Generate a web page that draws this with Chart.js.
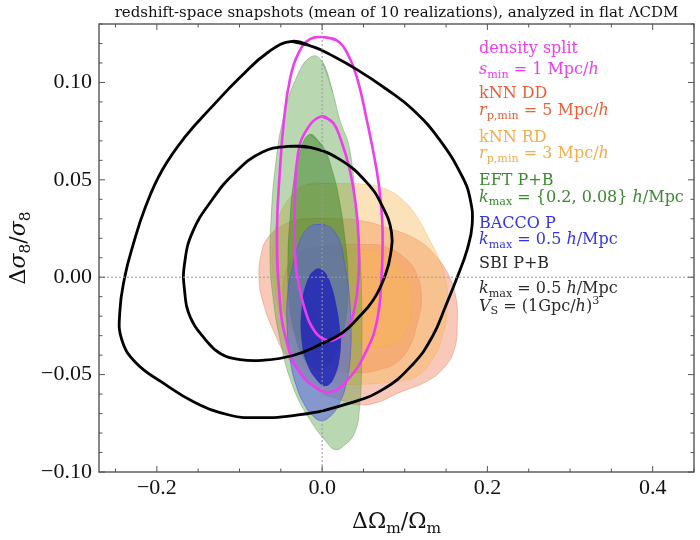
<!DOCTYPE html>
<html><head><meta charset="utf-8">
<script src="https://cdn.jsdelivr.net/npm/chart.js@4.4.1/dist/chart.umd.min.js"></script>
<style>html,body{margin:0;padding:0;background:#fff;}#wrap{width:700px;height:540px;}</style>
</head><body><div id="wrap"><canvas id="c" width="700" height="540"></canvas></div>
<script>
// ---- axes ----
const xRange = [-0.27, 0.45];
const yRange = [-0.10, 0.13];
const xTicks = [-0.2, 0.0, 0.2, 0.4];
const xTickLabels = ['\u22120.2', '0.0', '0.2', '0.4'];
const yTicks = [-0.10, -0.05, 0.00, 0.05, 0.10];
const yTickLabels = ['\u22120.10', '\u22120.05', '0.00', '0.05', '0.10'];

// ---- contours [x, y] (ΔΩm/Ωm, Δσ8/σ8) ----
const ddOuter = [[-0.0269,0.0297],[0.0057,0.0302],[0.0454,0.0291],[0.0852,0.0245],[0.1141,0.0194],[0.1334,0.0128],[0.1539,0.0004],[0.1623,-0.0115],[0.1635,-0.0233],[0.1599,-0.0372],[0.1454,-0.0474],[0.1237,-0.0541],[0.0936,-0.0592],[0.0659,-0.0644],[0.0418,-0.0654],[0.0213,-0.0629],[-0.0064,-0.0577],[-0.0425,-0.0407],[-0.0594,-0.0269],[-0.0714,-0.0130],[-0.0763,-0.0012],[-0.0739,0.0117],[-0.0654,0.0204],[-0.0473,0.0266]];
const ddInner = [[-0.0269,0.0132],[0.0093,0.0163],[0.0514,0.0168],[0.0755,0.0158],[0.1020,0.0091],[0.1153,0.0004],[0.1201,-0.0115],[0.1153,-0.0233],[0.1057,-0.0356],[0.0900,-0.0438],[0.0695,-0.0474],[0.0490,-0.0490],[0.0273,-0.0485],[0.0129,-0.0459],[-0.0148,-0.0382],[-0.0305,-0.0305],[-0.0425,-0.0217],[-0.0473,-0.0115],[-0.0449,0.0014],[-0.0365,0.0091]];
const rdOuter = [[-0.0184,0.0476],[0.0129,0.0481],[0.0539,0.0476],[0.0780,0.0451],[0.0996,0.0389],[0.1153,0.0307],[0.1298,0.0194],[0.1418,0.0091],[0.1502,-0.0027],[0.1514,-0.0166],[0.1454,-0.0305],[0.1334,-0.0423],[0.1141,-0.0510],[0.0936,-0.0531],[0.0635,-0.0546],[0.0334,-0.0551],[0.0033,-0.0526],[-0.0208,-0.0464],[-0.0389,-0.0346],[-0.0522,-0.0166],[-0.0594,0.0014],[-0.0594,0.0168],[-0.0510,0.0322],[-0.0365,0.0420]];
const rdInner = [[0.0213,0.0117],[0.0514,0.0142],[0.0755,0.0112],[0.0936,0.0050],[0.1057,-0.0038],[0.1081,-0.0151],[0.1033,-0.0253],[0.0912,-0.0330],[0.0755,-0.0356],[0.0514,-0.0346],[0.0273,-0.0310],[0.0033,-0.0243],[-0.0124,-0.0140],[-0.0148,-0.0012],[-0.0028,0.0081]];
const eftOuter = [[0.0008,0.1103],[0.0129,0.0949],[0.0213,0.0810],[0.0334,0.0656],[0.0418,0.0312],[0.0454,0.0142],[0.0478,-0.0099],[0.0478,-0.0438],[0.0454,-0.0664],[0.0394,-0.0798],[0.0249,-0.0870],[0.0153,-0.0885],[0.0057,-0.0849],[-0.0148,-0.0731],[-0.0353,-0.0562],[-0.0510,-0.0320],[-0.0606,-0.0063],[-0.0630,0.0091],[-0.0618,0.0297],[-0.0570,0.0553],[-0.0473,0.0810],[-0.0305,0.1031],[-0.0124,0.1134]];
const eftInner = [[-0.0148,0.0733],[0.0008,0.0672],[0.0129,0.0538],[0.0213,0.0384],[0.0273,0.0209],[0.0310,0.0040],[0.0310,-0.0115],[0.0261,-0.0269],[0.0165,-0.0397],[0.0033,-0.0464],[-0.0112,-0.0464],[-0.0245,-0.0397],[-0.0341,-0.0269],[-0.0401,-0.0115],[-0.0413,0.0117],[-0.0389,0.0297],[-0.0353,0.0466],[-0.0269,0.0641]];
const baccoOuter = [[-0.0064,0.0271],[0.0045,0.0266],[0.0141,0.0240],[0.0225,0.0168],[0.0273,0.0065],[0.0322,-0.0063],[0.0346,-0.0217],[0.0346,-0.0372],[0.0298,-0.0536],[0.0201,-0.0654],[0.0093,-0.0716],[-0.0016,-0.0736],[-0.0112,-0.0711],[-0.0220,-0.0649],[-0.0305,-0.0567],[-0.0377,-0.0449],[-0.0425,-0.0243],[-0.0413,-0.0063],[-0.0365,0.0040],[-0.0305,0.0142],[-0.0233,0.0219],[-0.0148,0.0261]];
const baccoInner = [[0.0020,0.0029],[0.0093,-0.0027],[0.0165,-0.0140],[0.0213,-0.0284],[0.0213,-0.0397],[0.0141,-0.0515],[0.0045,-0.0557],[-0.0064,-0.0526],[-0.0184,-0.0438],[-0.0245,-0.0320],[-0.0245,-0.0166],[-0.0184,-0.0027],[-0.0076,0.0040]];
const dsOuter = [[0.0033,0.1232],[0.0177,0.1216],[0.0298,0.1155],[0.0418,0.1031],[0.0539,0.0810],[0.0659,0.0553],[0.0707,0.0399],[0.0731,0.0245],[0.0719,0.0004],[0.0659,-0.0233],[0.0514,-0.0397],[0.0334,-0.0514],[0.0129,-0.0587],[-0.0028,-0.0577],[-0.0269,-0.0490],[-0.0437,-0.0320],[-0.0522,-0.0063],[-0.0546,0.0245],[-0.0510,0.0553],[-0.0461,0.0810],[-0.0389,0.1016],[-0.0293,0.1144],[-0.0148,0.1222]];
const dsInner = [[-0.0004,0.0826],[0.0129,0.0795],[0.0225,0.0708],[0.0334,0.0553],[0.0406,0.0374],[0.0442,0.0194],[0.0442,0.0014],[0.0394,-0.0156],[0.0298,-0.0269],[0.0153,-0.0320],[0.0033,-0.0320],[-0.0088,-0.0279],[-0.0208,-0.0166],[-0.0305,0.0014],[-0.0329,0.0142],[-0.0329,0.0399],[-0.0293,0.0631],[-0.0184,0.0759]];
const sbiOuter = [[-0.0365,0.1211],[-0.0088,0.1180],[0.0093,0.1144],[0.0418,0.1067],[0.0780,0.0965],[0.1093,0.0862],[0.1418,0.0708],[0.1695,0.0517],[0.1792,0.0400],[0.1816,0.0271],[0.1755,0.0142],[0.1624,-0.0012],[0.1502,-0.0140],[0.1334,-0.0305],[0.1093,-0.0449],[0.0731,-0.0577],[0.0273,-0.0654],[-0.0269,-0.0706],[-0.0811,-0.0721],[-0.1136,-0.0706],[-0.1534,-0.0644],[-0.1931,-0.0541],[-0.2257,-0.0438],[-0.2425,-0.0320],[-0.2449,-0.0181],[-0.2389,0.0000],[-0.2293,0.0158],[-0.2136,0.0363],[-0.1931,0.0553],[-0.1654,0.0723],[-0.1329,0.0877],[-0.0992,0.1026],[-0.0654,0.1155]];
const sbiInner = [[-0.0413,0.0672],[-0.0148,0.0667],[0.0213,0.0605],[0.0539,0.0487],[0.0731,0.0363],[0.0840,0.0230],[0.0828,0.0117],[0.0767,0.0014],[0.0623,-0.0115],[0.0418,-0.0217],[0.0249,-0.0284],[-0.0028,-0.0346],[-0.0353,-0.0402],[-0.0727,-0.0427],[-0.0992,-0.0423],[-0.1233,-0.0392],[-0.1413,-0.0320],[-0.1594,-0.0207],[-0.1666,-0.0063],[-0.1666,0.0065],[-0.1570,0.0230],[-0.1329,0.0399],[-0.1052,0.0538],[-0.0727,0.0641]];

// ---- styling ----
const FONT = '"DejaVu Serif", "Liberation Serif", serif';
const TICKFONT = '"Liberation Serif", "DejaVu Serif", serif';
const C_DS = '#ee3cee', C_DD = '#ea5f3a', C_RD = '#f2ad4c', C_EFT = '#3b8a2f', C_BAC = '#3434ee', C_SBI = '#2a2a2a';

function closed(pts) {
  const p = pts.concat([pts[0], pts[1]]);
  return p.map(([x, y]) => ({x, y}));
}
function filled(pts, fillC, edgeC) {
  return {data: closed(pts), showLine: true, fill: 'shape', backgroundColor: fillC,
    borderColor: edgeC, borderWidth: 0.8, pointRadius: 0, tension: 0.45};
}
function lined(pts, c, w) {
  return {data: closed(pts), showLine: true, fill: false, borderColor: c,
    borderWidth: w, pointRadius: 0, tension: 0.45};
}
// bottom -> top
const layers = [
  filled(ddOuter, 'rgba(236,112,72,0.38)', 'rgba(225,100,60,0.45)'),
  filled(ddInner, 'rgba(236,112,72,0.38)', 'rgba(225,100,60,0.45)'),
  filled(rdOuter, 'rgba(248,182,82,0.40)', 'rgba(240,170,70,0.45)'),
  filled(rdInner, 'rgba(248,182,82,0.40)', 'rgba(240,170,70,0.45)'),
  filled(eftOuter, 'rgba(80,155,60,0.40)', 'rgba(70,140,50,0.45)'),
  filled(eftInner, 'rgba(60,130,40,0.50)', 'rgba(60,130,40,0.5)'),
  filled(baccoOuter, 'rgba(90,100,230,0.55)', 'rgba(70,80,230,0.7)'),
  filled(baccoInner, 'rgba(30,35,185,0.80)', 'rgba(30,35,185,0.8)'),
  lined(dsOuter, '#f03cf0', 2.6),
  lined(dsInner, '#f03cf0', 2.6),
  lined(sbiOuter, '#000000', 2.8),
  lined(sbiInner, '#000000', 2.8),
];
layers.forEach((d, i) => { d.order = layers.length - i; });

const legendLines = [
  {y: 53, c: C_DS, parts: [['density split', 'r']]},
  {y: 74, c: C_DS, parts: [['s', 'i'], ['min', 'sub'], [' = 1 Mpc/', 'r'], ['h', 'i']]},
  {y: 98, c: C_DD, parts: [['kNN DD', 'r']]},
  {y: 115, c: C_DD, parts: [['r', 'i'], ['p,min', 'sub'], [' = 5 Mpc/', 'r'], ['h', 'i']]},
  {y: 141.5, c: C_RD, parts: [['kNN RD', 'r']]},
  {y: 158, c: C_RD, parts: [['r', 'i'], ['p,min', 'sub'], [' = 3 Mpc/', 'r'], ['h', 'i']]},
  {y: 185, c: C_EFT, parts: [['EFT P+B', 'r']]},
  {y: 201.5, c: C_EFT, parts: [['k', 'i'], ['max', 'sub'], [' = {0.2, 0.08} ', 'r'], ['h', 'i'], ['/Mpc', 'r']]},
  {y: 228, c: C_BAC, parts: [['BACCO P', 'r']]},
  {y: 244, c: C_BAC, parts: [['k', 'i'], ['max', 'sub'], [' = 0.5 ', 'r'], ['h', 'i'], ['/Mpc', 'r']]},
  {y: 268, c: C_SBI, parts: [['SBI P+B', 'r']]},
  {y: 293, c: C_SBI, parts: [['k', 'i'], ['max', 'sub'], [' = 0.5 ', 'r'], ['h', 'i'], ['/Mpc', 'r']]},
  {y: 310.5, c: C_SBI, parts: [['V', 'i'], ['S', 'sub'], [' = (1Gpc/', 'r'], ['h', 'i'], [')', 'r'], ['3', 'sup']]},
];

function drawRich(ctx, parts, x, y, fs, color, align) {
  const seg = parts.map(([t, k]) => {
    let size = fs, style = '', dy = 0;
    if (k === 'i') style = 'italic ';
    if (k === 'sub') { size = fs * 0.7; dy = fs * 0.22; }
    if (k === 'sup') { size = fs * 0.7; dy = -fs * 0.42; }
    const font = style + size + 'px ' + FONT;
    ctx.font = font;
    return {t, font, dy, w: ctx.measureText(t).width};
  });
  const total = seg.reduce((s, a) => s + a.w, 0);
  let cx = align === 'center' ? x - total / 2 : x;
  ctx.fillStyle = color; ctx.textBaseline = 'alphabetic'; ctx.textAlign = 'left';
  for (const s of seg) { ctx.font = s.font; ctx.fillText(s.t, cx, y + s.dy); cx += s.w; }
}

const overlay = {
  id: 'overlay',
  afterDatasetsDraw(chart) {
    const {ctx, chartArea: a, scales: {x, y}} = chart;
    ctx.save();
    ctx.beginPath(); ctx.rect(a.left, a.top, a.right - a.left, a.bottom - a.top); ctx.clip();
    ctx.strokeStyle = '#9a9a9a'; ctx.lineWidth = 1; ctx.setLineDash([2, 2]);
    const x0 = x.getPixelForValue(0), y0 = y.getPixelForValue(0);
    ctx.beginPath();
    ctx.moveTo(x0, a.top); ctx.lineTo(x0, a.bottom);
    ctx.moveTo(a.left, y0); ctx.lineTo(a.right, y0);
    ctx.stroke();
    ctx.restore();
  },
  afterDraw(chart) {
    const {ctx, chartArea: a, scales: {x, y}} = chart;
    ctx.save();
    // ticks (inward, all sides)
    ctx.strokeStyle = '#555'; ctx.lineWidth = 1;
    ctx.beginPath();
    for (let v = -0.25; v <= 0.4501; v += 0.05) {
      const px = x.getPixelForValue(v);
      const major = xTicks.some(t => Math.abs(t - v) < 1e-6);
      const L = major ? 6 : 3.5;
      ctx.moveTo(px, a.bottom); ctx.lineTo(px, a.bottom - L);
      ctx.moveTo(px, a.top); ctx.lineTo(px, a.top + L);
    }
    for (let i = -10; i <= 13; i++) {
      const v = i / 100;
      const py = y.getPixelForValue(v);
      const major = i % 5 === 0;
      const L = major ? 6 : 3.5;
      ctx.moveTo(a.left, py); ctx.lineTo(a.left + L, py);
      ctx.moveTo(a.right, py); ctx.lineTo(a.right - L, py);
    }
    ctx.stroke();
    // frame
    ctx.strokeStyle = '#555'; ctx.lineWidth = 1.4;
    ctx.strokeRect(a.left, a.top, a.right - a.left, a.bottom - a.top);
    // title
    ctx.fillStyle = '#111'; ctx.textAlign = 'center'; ctx.textBaseline = 'alphabetic';
    ctx.font = '15px ' + FONT;
    ctx.fillText('redshift-space snapshots (mean of 10 realizations), analyzed in flat \u039BCDM', (a.left + a.right) / 2, 17);
    // axis labels
    drawRich(ctx, [['\u0394\u03A9', 'r'], ['m', 'sub'], ['/\u03A9', 'r'], ['m', 'sub']], (a.left + a.right) / 2, 528, 22, '#111', 'center');
    ctx.save();
    ctx.translate(25, (a.top + a.bottom) / 2);
    ctx.rotate(-Math.PI / 2);
    drawRich(ctx, [['\u0394', 'r'], ['\u03C3', 'i'], ['8', 'sub'], ['/', 'r'], ['\u03C3', 'i'], ['8', 'sub']], 0, 0, 22, '#111', 'center');
    ctx.restore();
    // legend text
    for (const L of legendLines) drawRich(ctx, L.parts, 479, L.y, 16, L.c, 'left');
    ctx.restore();
  }
};

new Chart(document.getElementById('c'), {
  type: 'scatter',
  data: {datasets: layers},
  options: {
    responsive: false, animation: false,
    layout: {padding: {top: 24, right: 6, left: 0, bottom: 0}},
    plugins: {legend: {display: false}, tooltip: {enabled: false}, title: {display: false}},
    scales: {
      x: {
        type: 'linear', min: xRange[0], max: xRange[1],
        afterBuildTicks: s => { s.ticks = xTicks.map(v => ({value: v})); },
        afterFit: s => { s.height = 68; },
        ticks: {callback: v => xTickLabels[xTicks.indexOf(v)], font: {family: TICKFONT, size: 22}, color: '#111', padding: 3, maxRotation: 0, autoSkip: false},
        grid: {display: false, drawTicks: false}, border: {display: false}
      },
      y: {
        type: 'linear', min: yRange[0], max: yRange[1],
        afterBuildTicks: s => { s.ticks = yTicks.map(v => ({value: v})); },
        afterFit: s => { s.width = 99; },
        ticks: {callback: v => yTickLabels[yTicks.indexOf(v)], font: {family: TICKFONT, size: 22}, color: '#111', padding: 7, autoSkip: false},
        grid: {display: false, drawTicks: false}, border: {display: false}
      }
    }
  },
  plugins: [overlay]
});
</script>
</body></html>
